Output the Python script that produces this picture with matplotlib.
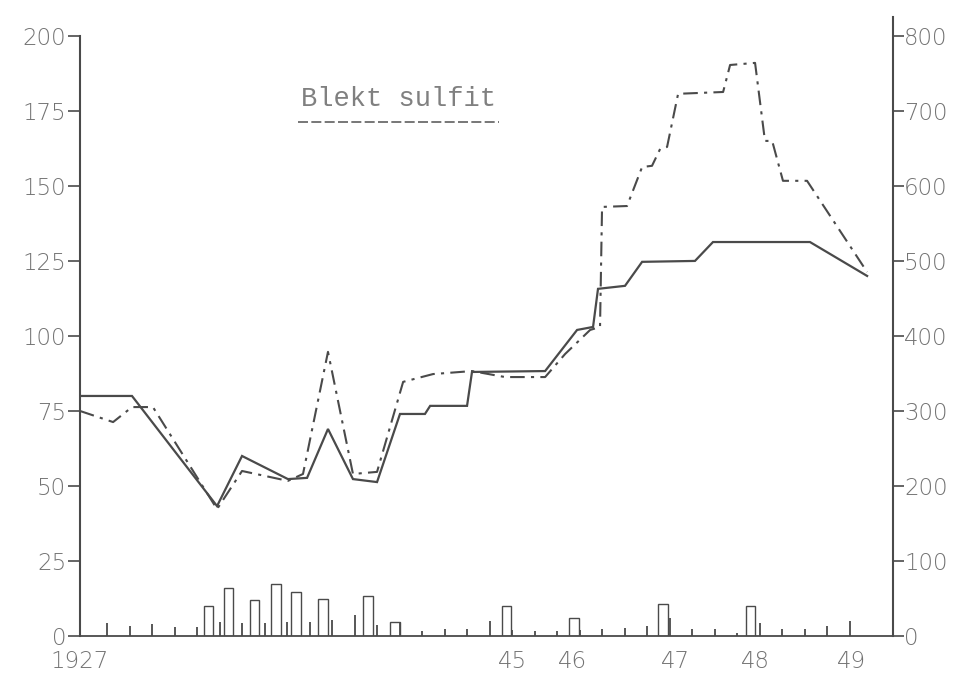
import matplotlib
matplotlib.use("Agg")
import matplotlib.pyplot as plt
import numpy as np

# Blekt sulfit - price index lines plus monthly bars at the bottom
# x is measured in the chart's own tick steps (spike marks along the base)

solid_t = [-1.2, 1.11, 4.89, 6.0, 8.04, 8.89, 9.82, 10.93, 12.0, 13.02, 14.13, 14.36,
           16.0, 16.22, 19.47, 20.89, 21.6, 21.82, 23.02, 23.78, 26.13, 26.93, 31.24, 33.78]
solid_v = [80, 80, 43.3, 60, 52.3, 52.7, 69, 52.3, 51.3, 74, 74, 76.7,
           76.7, 88, 88.3, 102, 103, 115.7, 116.7, 124.7, 125, 131.3, 131.3, 120]

dash_t = [-1.2, 0.27, 1.11, 2.04, 4.89, 6.0, 8.04, 8.71, 9.82, 10.93, 12.0, 13.16,
          14.49, 16.22, 17.69, 19.47, 20.36, 21.47, 21.91, 22.0, 23.11, 23.78, 24.22,
          24.58, 24.89, 25.38, 27.38, 27.69, 28.8, 29.24, 29.56, 30.04, 31.11, 33.78]
dash_v = [75, 71.3, 76.3, 76.3, 42.3, 55, 51.7, 54, 94.7, 54, 54.7, 84.7,
          87.3, 88.3, 86.3, 86.3, 94, 102, 103, 143, 143.3, 156.3, 156.7,
          162.3, 163, 180.7, 181.3, 190.3, 191, 165, 165, 151.7, 151.7, 121.3]

bar_t = [4.5, 5.4, 6.55, 7.5, 8.4, 9.6, 11.6, 12.8, 17.75, 20.75, 24.7, 28.6]
bar_h = [10, 16, 12, 17.3, 14.7, 12.3, 13.3, 4.7, 10, 6, 10.7, 10]

spike_h = [4.5, 3.5, 4, 3, 3, 4.8, 4.5, 4.4, 4.7, 4.7, 5.3, 6.9, 3.7, 4.8, 1.7, 2.2, 2.2,
           5, 2, 1.7, 1.7, 2, 2.2, 2.8, 3.3, 6, 2.2, 2.2, 1.1, 4.4, 2.2, 2.2, 3.3, 5]
spike_t = np.arange(len(spike_h))

year_t = [-1.2, 18.04, 20.7, 25.24, 28.8, 33.1]
year_labels = ['1927', '45', '46', '47', '48', '49']

left_ticks = [0, 25, 50, 75, 100, 125, 150, 175, 200]
right_ticks = [0, 100, 200, 300, 400, 500, 600, 700, 800]

ink = '#4a4a4a'
label_col = '#737373'
plt.rcParams['font.family'] = ['DejaVu Sans']

fig = plt.figure(figsize=(9.56, 6.79), dpi=100)
ax = fig.add_axes([0.0837, 0.0633, 0.8504, 0.9117])
ax2 = ax.twinx()

ax.plot(solid_t, solid_v, color=ink, lw=1.6, solid_joinstyle='miter')
ax.plot(dash_t, dash_v, color=ink, lw=1.5, dashes=(7, 3, 1.5, 3))

ax.bar(bar_t, bar_h, width=0.42, fill=False, edgecolor=ink, lw=1.0)
ax.vlines(spike_t, 0, spike_h, color=ink, lw=1.3)

ax.set_xlim(-1.2, 34.93)
ax.set_ylim(0, 206.3)
ax2.set_ylim(0, 825.2)

ax.set_yticks(left_ticks)
ax2.set_yticks(right_ticks)
ax.set_xticks(year_t)
ax.set_xticklabels(year_labels)

for a in (ax, ax2):
    a.spines['top'].set_visible(False)
    a.tick_params(labelsize=16.5, colors=label_col, labelcolor=label_col)
    a.spines['left'].set_color(ink)
    a.spines['right'].set_color(ink)
    a.spines['bottom'].set_color(ink)
ax.spines['right'].set_visible(False)
ax.spines['left'].set_bounds(0, 200)
ax2.spines['left'].set_visible(False)
ax2.spines['bottom'].set_visible(False)
ax.tick_params(axis='y', length=9, width=1.2, pad=1, color=ink)
ax.tick_params(axis='x', length=0, pad=10)
ax2.tick_params(axis='y', length=8, width=1.2, pad=0, color=ink)
ax.spines['left'].set_linewidth(1.5)
ax2.spines['right'].set_linewidth(1.5)
ax.spines['bottom'].set_linewidth(1.3)

for lab in ax.get_yticklabels() + ax2.get_yticklabels() + ax.get_xticklabels():
    lab.set_fontweight('light')

ax.text(8.6, 174.5, 'Blekt sulfit', family='Liberation Mono', fontsize=19.5,
        color='#808080', ha='left', va='bottom')
ax.plot([8.5, 17.4], [171.3, 171.3], color='#606060', lw=1.2, dashes=(6, 2))

fig.savefig('out.png', dpi=100, facecolor='white')
